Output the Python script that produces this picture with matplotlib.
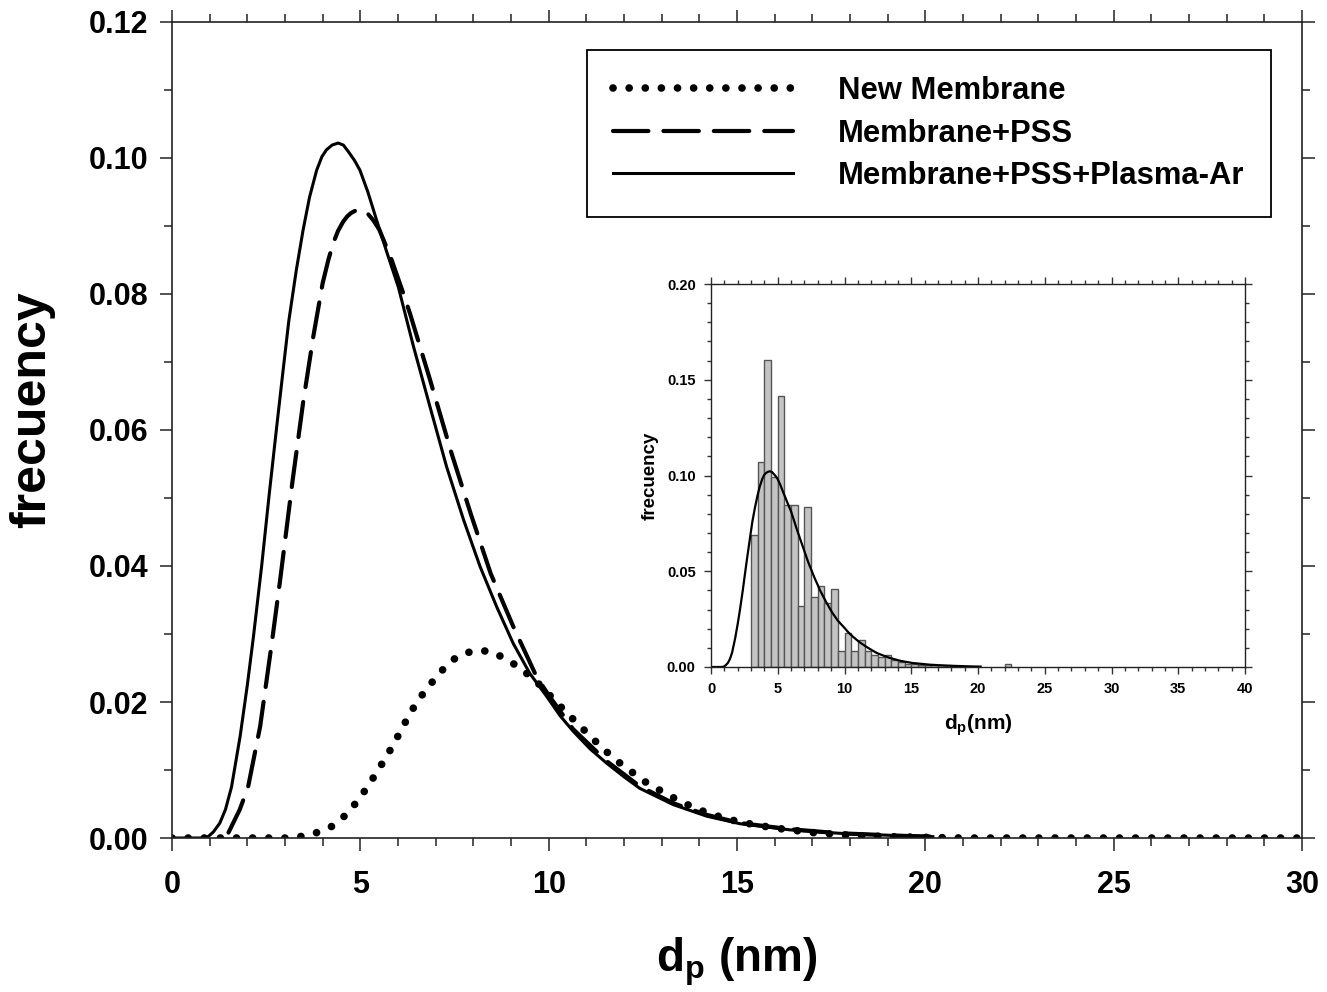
import matplotlib

matplotlib.use("Agg")
import matplotlib.pyplot as plt
from matplotlib.ticker import MultipleLocator

plt.rcParams["font.family"] = ["Liberation Sans", "DejaVu Sans"]
plt.rcParams["font.weight"] = "bold"
plt.rcParams["mathtext.fontset"] = "custom"
plt.rcParams["mathtext.rm"] = "Liberation Sans"
plt.rcParams["mathtext.bf"] = "Liberation Sans:bold"

# pore diameter distributions (dp in nm, frequency)
new_x = [0.0, 1.0, 2.0, 3.0, 3.4, 3.8, 4.24, 4.64, 4.99, 5.28, 5.54, 5.79, 6.03,
         6.25, 6.5, 6.8, 7.14, 7.55, 7.97, 8.4, 8.82, 9.24, 9.66, 10.06, 10.48,
         10.9, 11.32, 11.73, 12.16, 12.58, 13.02, 13.42, 13.84, 14.26, 14.68,
         15.12, 15.54, 15.95, 17.0, 18.0, 19.0, 20.0, 21.0, 25.0, 30.0]
new_y = [0.0, 0.0, 0.0, 0.0, 0.0002, 0.0007, 0.0017, 0.0035, 0.0059, 0.0083,
         0.0106, 0.0129, 0.0153, 0.0176, 0.0200, 0.0222, 0.0245, 0.0266, 0.0275,
         0.0275, 0.0265, 0.0250, 0.0231, 0.0208, 0.0184, 0.0161, 0.0138, 0.0117,
         0.0099, 0.0082, 0.0068, 0.0056, 0.0045, 0.0036, 0.0029, 0.0023, 0.0019,
         0.0015, 0.0008, 0.0004, 0.0002, 0.0001, 0.0, 0.0, 0.0]

pss_x = [1.5, 1.58, 1.8, 2.02, 2.34, 2.65, 2.87, 3.2, 3.48, 3.75, 4.0, 4.15,
         4.28, 4.41, 4.54, 4.65, 4.75, 4.85, 4.95, 5.05, 5.2, 5.35, 5.5, 5.8,
         6.14, 6.32, 6.85, 7.42, 7.93, 8.46, 9.06, 9.68, 10.0, 10.65, 11.54,
         12.42, 13.31, 14.2, 15.08, 16.4, 17.7, 19.5, 20.2]
pss_y = [0.0008, 0.0017, 0.0042, 0.0075, 0.0164, 0.0287, 0.0379, 0.0525,
         0.0640, 0.0737, 0.0816, 0.0850, 0.0875, 0.0893, 0.0906, 0.0914, 0.0919,
         0.0922, 0.0924, 0.0923, 0.0918, 0.0908, 0.0895, 0.0855, 0.0801, 0.0771,
         0.0674, 0.0566, 0.0477, 0.0389, 0.0311, 0.0237, 0.0210, 0.0160, 0.0113,
         0.0076, 0.0051, 0.0034, 0.0022, 0.0013, 0.0007, 0.0003, 0.0002]

ar_x = [0.0, 0.8, 0.96, 1.1, 1.27, 1.42, 1.58, 1.81, 2.0, 2.16, 2.38, 2.58,
        2.78, 2.95, 3.1, 3.3, 3.48, 3.65, 3.84, 3.98, 4.1, 4.25, 4.41, 4.55,
        4.7, 4.85, 4.99, 5.2, 5.43, 5.7, 6.01, 6.41, 6.85, 7.29, 7.74, 8.18,
        8.62, 9.06, 9.5, 9.95, 10.3, 10.65, 11.1, 11.54, 12.0, 12.42, 13.31,
        14.2, 15.08, 16.4, 17.7, 19.5, 20.2]
ar_y = [0.0, 0.0, 0.0002, 0.0009, 0.0022, 0.0042, 0.0075, 0.0150, 0.0225,
        0.0295, 0.0400, 0.0505, 0.0605, 0.0688, 0.0760, 0.0835, 0.0894, 0.0942,
        0.0982, 0.1002, 0.1012, 0.1019, 0.1022, 0.1019, 0.1008, 0.0996, 0.0982,
        0.0950, 0.0909, 0.0862, 0.0810, 0.0723, 0.0634, 0.0546, 0.0468, 0.0399,
        0.0340, 0.0286, 0.0242, 0.0208, 0.0180, 0.0157, 0.0131, 0.0110, 0.0090,
        0.0073, 0.0049, 0.0032, 0.0021, 0.0012, 0.0007, 0.0003, 0.0002]

# inset histogram, 0.5 nm bins (left edges) for Membrane+PSS+Plasma-Ar
bin_left = [3.0, 3.5, 4.0, 4.5, 5.0, 5.5, 6.0, 6.5, 7.0, 7.5, 8.0, 8.5, 9.0,
            9.5, 10.0, 10.5, 11.0, 11.5, 12.0, 12.5, 13.0, 13.5, 14.0, 14.5,
            15.0, 15.5, 16.0, 16.5, 17.0, 17.5, 22.0]
bin_freq = [0.0688, 0.1070, 0.1605, 0.0990, 0.1415, 0.0846, 0.0846, 0.0316,
            0.0838, 0.0368, 0.0422, 0.0332, 0.0405, 0.0081, 0.0177, 0.0081,
            0.0142, 0.0081, 0.0064, 0.0050, 0.0064, 0.0035, 0.0026, 0.0017,
            0.0015, 0.0010, 0.0012, 0.0008, 0.0010, 0.0008, 0.0015]
bin_width = 0.5

labels = ["New Membrane", "Membrane+PSS", "Membrane+PSS+Plasma-Ar"]


def style_axis(axis, major_len, minor_len, width):
    axis.tick_params(which="both", direction="out", top=True, right=True,
                     width=width, color="#333333")
    axis.tick_params(which="major", length=major_len)
    axis.tick_params(which="minor", length=minor_len)
    for spine in axis.spines.values():
        spine.set_linewidth(width)
        spine.set_color("#222222")


fig = plt.figure(figsize=(13.27, 9.92), dpi=100)
ax = fig.add_axes([172 / 1327, 1 - 838 / 992, 1130 / 1327, 816 / 992])

ax.plot(new_x, new_y, color="black", lw=5.5, linestyle=(0, (0.01, 2.1)),
        dash_capstyle="round", label=labels[0])
ax.plot(pss_x, pss_y, color="black", lw=3.0, linestyle=(0, (8.5, 3.6)),
        dash_capstyle="round", label=labels[1])
ax.plot(ar_x, ar_y, color="black", lw=2.2, label=labels[2])

ax.set_xlim(0, 30)
ax.set_ylim(0, 0.12)
ax.xaxis.set_major_locator(MultipleLocator(5))
ax.xaxis.set_minor_locator(MultipleLocator(1))
ax.yaxis.set_major_locator(MultipleLocator(0.02))
ax.yaxis.set_minor_locator(MultipleLocator(0.01))
ax.yaxis.set_major_formatter(lambda v, pos: f"{v:.2f}")
style_axis(ax, 9, 6, 1.2)
ax.tick_params(labelsize=22)
ax.tick_params(axis="x", pad=14)
ax.tick_params(axis="y", pad=8)
for tick in ax.get_xticklabels() + ax.get_yticklabels():
    tick.set_fontweight("bold")

ax.set_xlabel(r"$\mathbf{d_{p}}$ (nm)", fontsize=33, fontweight="bold")
ax.xaxis.set_label_coords(0.5, -0.12)
ax.set_ylabel("frecuency", fontsize=36, fontweight="bold")
ax.yaxis.set_label_coords(-0.103, 0.525)

leg = ax.legend(loc="upper left", bbox_to_anchor=(587 / 1327, 1 - 50 / 992),
                bbox_transform=fig.transFigure, borderaxespad=0,
                fontsize=22.3, handlelength=5.8, handletextpad=1.45,
                borderpad=0.85, labelspacing=0.4, fancybox=False,
                edgecolor="black", framealpha=1)
leg.get_frame().set_linewidth(1.3)
for text in leg.get_texts():
    text.set_fontweight("bold")

# inset: histogram with the fitted curve
inset = fig.add_axes([711 / 1327, 1 - 667 / 992, 534 / 1327, 383 / 992])
inset.bar(bin_left, bin_freq, width=bin_width, align="edge",
          color="#c4c4c4", edgecolor="#555555", linewidth=1.0)
inset.plot(ar_x, ar_y, color="black", lw=1.6)
inset.set_xlim(0, 40)
inset.set_ylim(0, 0.2)
inset.xaxis.set_major_locator(MultipleLocator(5))
inset.xaxis.set_minor_locator(MultipleLocator(1))
inset.yaxis.set_major_locator(MultipleLocator(0.05))
inset.yaxis.set_minor_locator(MultipleLocator(0.01))
inset.yaxis.set_major_formatter(lambda v, pos: f"{v:.2f}")
style_axis(inset, 5, 3, 1.0)
inset.tick_params(labelsize=10.5, pad=6)
inset.set_xlabel(r"$\mathbf{d_{p}}$(nm)", fontsize=15, fontweight="bold",
                 labelpad=12)
inset.set_ylabel("frecuency", fontsize=13.5, fontweight="bold", labelpad=6)

fig.savefig("out.png", dpi=100)
